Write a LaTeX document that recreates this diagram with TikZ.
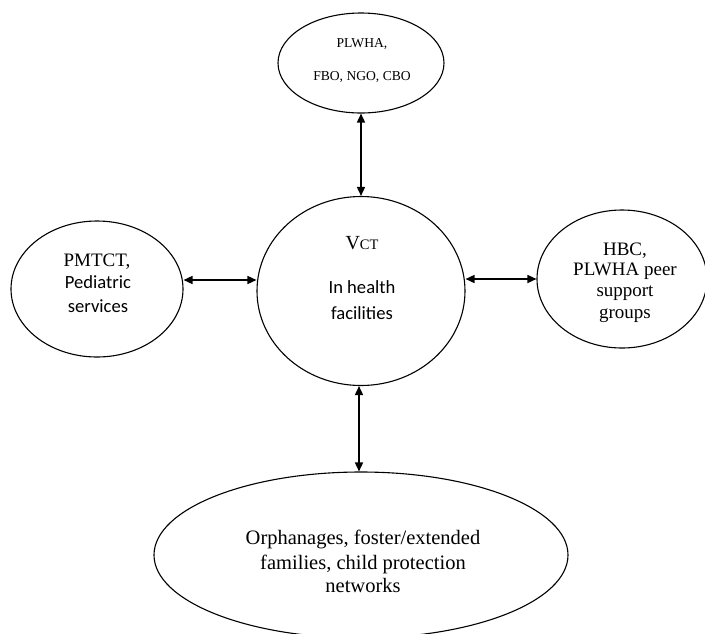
\documentclass[tikz,border=0pt]{standalone}
\usepackage{fontspec}
\setmainfont{Liberation Serif}
\newfontfamily\calfont{Carlito}
\usetikzlibrary{shapes.geometric,arrows.meta}
\begin{document}
\begin{tikzpicture}[x=1pt,y=-1pt,
  oval/.style={ellipse,draw=black,line width=1.1pt,inner sep=0pt},
  link/.style={line width=1.6pt,{Triangle[length=9pt,width=8pt]}-{Triangle[length=9pt,width=8pt]}},
  serifline/.style={anchor=base,inner sep=0pt,font=\fontsize{19}{21}\selectfont},
  sansline/.style={anchor=base,inner sep=0pt,font=\calfont\fontsize{18.6}{21}\selectfont},
  smallline/.style={anchor=base,inner sep=0pt,font=\fontsize{13.6}{16}\selectfont},
  bigline/.style={anchor=base,inner sep=0pt,font=\fontsize{20.5}{24}\selectfont}]
\useasboundingbox (0,0) rectangle (705,633);
% ellipses
\node[oval,minimum width=166pt,minimum height=100pt] (top) at (361,63) {};
\node[oval,minimum width=208pt,minimum height=189pt] (vct) at (361,291) {};
\node[oval,minimum width=172pt,minimum height=136pt] (left) at (97,289) {};
\node[oval,minimum width=170pt,minimum height=138pt] (right) at (622,279) {};
\node[oval,minimum width=414pt,minimum height=166pt] (bottom) at (361,555) {};
% texts
\node[smallline] (t1) at (362,47) {PLWHA,};
\node[smallline] (t2) at (362,80) {FBO, NGO, CBO};
\node[anchor=base,inner sep=0pt] (v1) at (362,249) {\fontsize{20}{22}\selectfont V\fontsize{14.5}{16}\selectfont CT};
\node[sansline] (v2) at (362,293) {In health};
\node[sansline] (v3) at (362,319) {facilities};
\node[serifline] (l1) at (97,266) {PMTCT,};
\node[sansline] (l2) at (98,288) {Pediatric};
\node[sansline] (l3) at (98,312) {services};
\node[serifline] (r1) at (625,255) {HBC,};
\node[serifline] (r2) at (625,275) {PLWHA peer};
\node[serifline] (r3) at (625,296) {support};
\node[serifline] (r4) at (625,318) {groups};
\node[bigline] (b1) at (363,544) {Orphanages, foster/extended};
\node[bigline] (b2) at (363,569) {families, child protection};
\node[bigline] (b3) at (363,592) {networks};
% connectors
\draw[link] (top.south) -- (vct.north);
\draw[link] ([yshift=9pt]left.east) -- ([yshift=11pt]vct.west);
\draw[link] ([yshift=12pt]vct.east) -- (right.west);
\draw[link] ([xshift=-2pt]vct.south) -- ([xshift=-2pt]bottom.north);
\end{tikzpicture}
\end{document}
